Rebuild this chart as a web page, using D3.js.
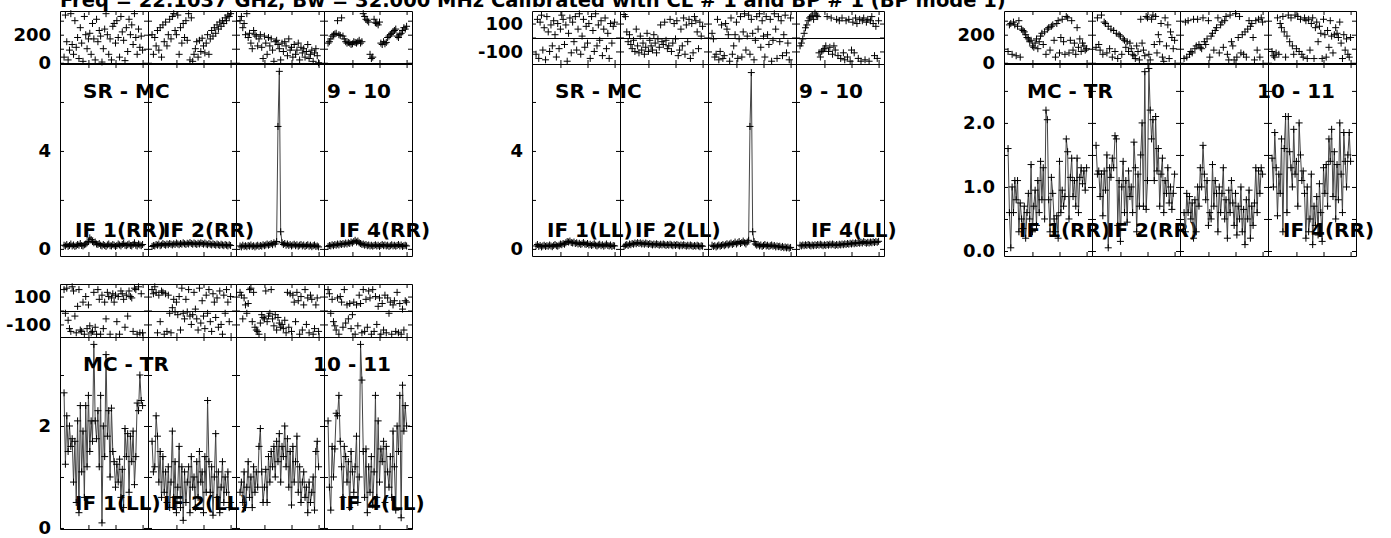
<!DOCTYPE html>
<html><head><meta charset="utf-8">
<script src="https://cdn.jsdelivr.net/npm/d3@7"></script>
<style>
html,body{margin:0;padding:0;background:#fff;}
svg{display:block;}
text{font-family:"DejaVu Sans",sans-serif;font-weight:bold;fill:#000;}
</style>
</head><body><svg id="c" width="1391" height="538"></svg>
<script>
// ---------------- DATA ----------------
const titleText = "Freq = 22.1037 GHz, Bw = 32.000 MHz  Calibrated with CL # 1 and BP # 1 (BP mode 1)";
const firstChannel = 2;
const channelAxisDomain = [-1, 64];
const channelTicks = [20, 40, 60];
const ifNames = ["IF 1", "IF 2", "IF 3", "IF 4"];
const ifLabelShown = [true, true, false, true];
const baselineNames = ["SR - MC", "SR - MC", "MC - TR", "MC - TR"];
const antennaPairs = ["9 - 10", "9 - 10", "10 - 11", "10 - 11"];
const polarizations = ["RR", "LL", "RR", "LL"];

const ampDomains = [[-0.29, 7.55], [-0.29, 7.55], [-0.078, 2.92], [-0.02, 3.745]];
const ampTicks = [[0, 2, 4, 6], [0, 2, 4, 6], [0, 0.5, 1, 1.5, 2, 2.5], [0, 1, 2, 3]];
const ampTickLabels = [[0, 4], [0, 4], [0, 1, 2], [0, 2]];
const ampLabelDecimals = [0, 0, 1, 0];
const phaseDomains = [[-9, 369], [-190, 190], [-9, 369], [-190, 190]];
const phaseTicks = [[0, 100, 200, 300], [-100, 0, 100], [0, 100, 200, 300], [-100, 0, 100]];
const phaseTickLabels = [[0, 200], [100, -100], [0, 200], [100, -100]];

// Panel 1: SR - MC, RR
const ampSRMC_RR = [
 [0.15,0.12,0.18,0.10,0.14,0.20,0.12,0.16,0.10,0.13,
  0.18,0.15,0.22,0.14,0.12,0.17,0.20,0.25,0.30,0.45,
  0.38,0.30,0.25,0.28,0.20,0.18,0.22,0.15,0.12,0.18,
  0.14,0.10,0.16,0.20,0.13,0.12,0.18,0.15,0.10,0.14,
  0.20,0.16,0.12,0.18,0.22,0.15,0.13,0.17,0.20,0.14,
  0.12,0.18,0.25,0.15,0.12,0.20,0.16,0.13,0.18],
 [0.10,0.14,0.12,0.18,0.15,0.20,0.13,0.16,0.22,0.18,
  0.15,0.20,0.17,0.22,0.19,0.16,0.21,0.18,0.24,0.20,
  0.17,0.22,0.19,0.25,0.21,0.18,0.23,0.20,0.26,0.22,
  0.19,0.24,0.21,0.18,0.23,0.20,0.25,0.22,0.19,0.24,
  0.20,0.17,0.22,0.19,0.16,0.21,0.18,0.15,0.20,0.17,
  0.14,0.19,0.16,0.13,0.18,0.15,0.12,0.17,0.14],
 [0.12,0.08,0.15,0.10,0.13,0.09,0.14,0.11,0.16,0.10,
  0.13,0.08,0.12,0.15,0.10,0.14,0.11,0.17,0.13,0.16,
  0.20,0.15,0.18,0.22,0.17,0.25,0.20,0.30,5.00,7.25,
  0.70,0.25,0.18,0.22,0.15,0.20,0.14,0.18,0.12,0.16,
  0.19,0.13,0.17,0.11,0.15,0.18,0.12,0.16,0.10,0.14,
  0.17,0.11,0.15,0.09,0.13,0.16,0.10,0.12,0.08],
 [0.10,0.14,0.12,0.17,0.13,0.18,0.15,0.20,0.16,0.21,
  0.18,0.22,0.19,0.24,0.20,0.25,0.22,0.28,0.24,0.30,
  0.35,0.28,0.32,0.25,0.22,0.18,0.20,0.15,0.18,0.13,
  0.16,0.12,0.15,0.11,0.14,0.17,0.12,0.15,0.10,0.14,
  0.18,0.13,0.16,0.12,0.15,0.10,0.13,0.17,0.12,0.15,
  0.11,0.14,0.18,0.12,0.16,0.10,0.13,0.15,0.12]
];
const phaseSRMC_RR = [
 [40,340,150,20,90,350,130,60,300,110,
  180,30,250,140,10,330,200,100,170,210,
  60,280,170,20,310,150,230,190,5,100,
  240,350,200,60,170,20,260,280,140,300,
  180,40,330,220,160,15,250,80,310,200,
  270,130,350,180,60,240,110,190,90],
 [200,60,180,120,230,90,250,40,270,150,
  290,120,200,310,170,330,350,230,200,340,
  60,250,140,280,180,300,160,350,20,320,
  10,60,100,150,40,160,80,175,120,70,
  140,200,60,170,230,190,250,210,270,240,
  290,260,300,280,320,300,340,330,350],
 [300,330,250,280,200,350,180,210,140,100,
  230,200,190,120,170,200,110,30,190,140,
  60,180,120,170,90,10,150,160,130,100,
  20,140,80,150,120,50,170,90,110,40,
  130,60,90,140,20,110,70,100,40,80,
  130,30,60,90,10,70,100,50,0],
 [140,150,170,190,200,205,210,300,200,195,
  320,190,170,150,140,145,140,130,135,150,
  145,140,150,160,140,150,350,330,310,300,
  290,60,30,40,310,285,280,270,290,140,
  130,150,135,145,180,190,200,210,220,230,
  240,190,180,200,210,230,250,240,260]
];

// Panel 2: SR - MC, LL
const ampSRMC_LL = [
 [0.12,0.18,0.10,0.14,0.08,0.12,0.15,0.10,0.13,0.11,
  0.16,0.12,0.09,0.14,0.18,0.13,0.11,0.15,0.20,0.17,
  0.22,0.19,0.25,0.30,0.28,0.32,0.26,0.24,0.28,0.22,
  0.25,0.20,0.23,0.18,0.21,0.26,0.20,0.18,0.22,0.16,
  0.19,0.14,0.17,0.21,0.15,0.12,0.16,0.19,0.13,0.17,
  0.11,0.15,0.20,0.14,0.12,0.16,0.10,0.14,0.12],
 [0.10,0.15,0.18,0.14,0.20,0.17,0.22,0.19,0.24,0.21,
  0.26,0.22,0.25,0.20,0.23,0.19,0.24,0.21,0.18,0.22,
  0.19,0.16,0.20,0.17,0.21,0.18,0.15,0.19,0.16,0.20,
  0.17,0.14,0.18,0.15,0.19,0.16,0.13,0.17,0.14,0.18,
  0.15,0.12,0.16,0.13,0.17,0.14,0.11,0.15,0.12,0.16,
  0.13,0.10,0.14,0.11,0.15,0.12,0.09,0.13,0.11],
 [0.15,0.10,0.13,0.08,0.12,0.16,0.11,0.14,0.18,0.13,
  0.17,0.21,0.16,0.20,0.24,0.18,0.22,0.28,0.20,0.25,
  0.30,0.22,0.26,0.32,0.25,0.20,0.28,0.35,5.00,7.20,
  0.70,0.30,0.20,0.15,0.18,0.12,0.16,0.10,0.14,0.18,
  0.12,0.15,0.10,0.13,0.16,0.11,0.14,0.08,0.12,0.09,
  0.11,0.06,0.10,0.05,0.08,0.04,0.07,0.03,0.06],
 [0.15,0.12,0.16,0.13,0.17,0.14,0.18,0.15,0.12,0.16,
  0.13,0.17,0.14,0.18,0.15,0.19,0.16,0.13,0.17,0.14,
  0.18,0.15,0.19,0.16,0.20,0.17,0.14,0.18,0.15,0.19,
  0.16,0.20,0.17,0.21,0.18,0.22,0.19,0.23,0.20,0.24,
  0.21,0.25,0.22,0.26,0.23,0.27,0.24,0.30,0.26,0.23,
  0.27,0.24,0.28,0.25,0.29,0.26,0.30,0.27,0.31]
];
const phaseSRMC_LL = [
 [-120,130,-150,110,160,-90,70,-160,150,40,
  -100,90,-60,120,20,-140,100,-80,60,160,
  130,-50,90,-170,30,140,-110,110,-30,150,
  -90,60,170,-120,10,130,-70,80,-40,100,
  -150,150,50,-100,170,-60,90,-20,120,-130,
  60,140,-80,30,-150,100,-40,80,110],
 [165,150,40,-30,20,-50,-80,-20,-100,60,
  -60,-110,10,-90,-40,-120,-70,30,-100,-20,
  -60,-90,20,-40,-110,-10,-70,90,-30,-50,
  110,-20,-80,-60,130,-100,-40,100,-10,120,
  -130,-90,60,-60,140,-120,90,-30,130,-150,
  100,-110,150,120,40,-80,110,10,80],
 [30,-10,-140,-120,130,-160,-100,90,-150,-130,
  100,60,20,-170,140,-120,-60,20,110,-150,
  -10,150,-140,40,170,-90,10,160,-120,130,
  30,-160,-20,150,60,170,-70,120,10,-140,
  150,20,-50,130,-170,-20,170,60,-150,150,
  -30,120,-130,20,160,-110,-40,-160,140],
 [-60,-40,-10,30,70,90,120,140,150,160,
  130,175,160,150,-110,-140,-100,-90,-80,-60,
  150,-100,-70,140,-120,-60,-90,130,-130,120,
  -150,140,-110,-160,120,-140,130,-170,-90,110,
  -110,140,100,-150,130,-170,120,140,-160,110,
  130,-170,120,150,100,-130,80,-150,120]
];

// Panel 3: MC - TR, RR
const ampMCTR_RR = [
 [1.6,0.6,0.05,1.0,0.6,1.1,0.8,1.1,0.3,0.75,
  0.5,0.35,0.7,0.2,0.6,0.9,0.5,1.35,0.3,0.7,
  0.95,0.4,1.1,0.6,1.4,0.8,1.3,0.5,2.2,2.05,
  0.8,0.3,1.15,0.9,0.5,0.3,0.55,0.2,1.4,0.6,
  0.95,0.7,0.85,1.75,1.55,0.5,1.15,1.45,0.85,1.1,
  0.7,1.45,0.6,1.15,1.3,1.05,1.25,0.95,1.3],
 [1.65,1.2,1.25,0.85,1.2,0.55,1.25,0.95,1.5,0.05,
  1.3,1.15,1.45,1.3,1.8,1.75,0.4,1.1,0.15,1.0,
  1.4,0.6,1.1,0.45,1.25,0.85,1.0,0.6,1.7,1.3,
  0.3,1.2,0.7,1.5,2.0,0.7,2.8,0.65,1.1,2.85,
  2.2,1.75,2.05,1.1,2.1,1.25,1.6,0.7,1.2,1.45,
  0.6,1.1,0.9,1.3,0.75,1.0,0.65,0.9,1.2],
 [0.6,0.3,0.9,0.6,0.85,0.5,0.75,0.2,0.8,0.3,
  1.0,0.7,1.3,1.0,1.65,1.2,0.8,1.1,0.4,0.6,
  0.5,1.35,0.7,1.1,0.9,0.3,1.0,0.6,0.9,1.3,
  0.5,0.8,0.2,0.95,0.6,1.1,0.75,0.4,0.9,0.25,
  0.7,0.5,1.0,0.3,0.65,0.1,0.8,0.5,0.95,0.2,
  0.7,0.4,0.75,1.3,0.6,1.25,0.9,1.3,1.2],
 [1.45,1.0,1.85,1.3,0.55,1.2,0.9,1.75,0.3,1.6,
  2.1,0.6,2.1,1.55,1.3,1.0,1.9,1.2,1.4,0.7,
  2.0,1.5,1.1,1.25,0.9,0.2,1.0,0.3,0.5,1.2,
  0.1,0.7,0.4,0.85,0.25,1.05,0.6,0.15,1.3,0.9,
  1.35,0.7,1.75,1.4,1.9,0.85,1.55,0.5,1.35,0.8,
  2.0,1.2,0.6,1.85,1.4,1.0,1.5,1.85,1.4]
];
const phaseMCTR_RR = [
 [80,270,280,60,290,270,50,260,300,40,
  240,230,220,200,180,170,150,160,120,110,
  140,170,100,150,190,210,130,220,60,240,
  250,90,260,270,160,40,280,300,70,180,
  310,150,60,330,320,70,160,300,90,140,
  60,250,110,170,80,140,120,90,100],
 [110,320,130,90,340,60,290,280,70,260,
  100,240,40,230,80,210,30,200,190,60,
  170,160,110,150,80,140,100,60,50,30,
  120,80,20,310,140,90,50,330,320,60,
  20,310,340,130,330,70,200,150,280,40,
  10,320,120,270,30,220,180,100,160],
 [30,290,40,300,60,80,70,310,100,120,
  310,130,110,100,320,150,130,170,300,40,
  190,210,90,230,250,320,70,270,290,110,
  300,330,60,20,340,150,120,20,350,40,
  180,330,70,200,60,220,40,240,300,260,
  280,180,20,300,90,310,40,320,290],
 [80,50,40,70,320,60,280,250,330,220,
  40,190,340,150,320,120,60,340,100,330,
  80,310,60,40,320,300,30,310,90,280,
  320,30,250,290,150,260,210,30,310,200,
  40,230,110,300,190,70,200,250,210,180,
  290,140,30,200,90,170,60,40,180]
];

// Panel 4: MC - TR, LL
const ampMCTR_LL = [
 [2.65,1.25,2.2,1.5,2.0,1.6,1.75,0.9,1.7,0.5,
  2.1,0.3,2.4,1.1,1.9,0.6,2.4,1.2,2.6,1.5,
  2.1,1.7,3.6,2.1,1.75,2.3,1.2,2.6,0.1,2.0,
  1.4,3.4,1.8,2.3,1.0,2.35,1.5,1.3,0.8,1.25,
  0.9,1.35,0.6,1.15,0.4,1.95,1.4,1.85,0.7,1.8,
  1.3,1.9,0.85,1.4,2.45,2.3,3.0,2.5,2.4],
 [1.7,1.1,1.2,2.2,1.8,0.9,1.5,0.6,1.4,0.7,
  1.1,0.5,1.2,0.4,0.9,1.9,0.6,1.3,0.3,0.8,
  1.6,0.4,1.2,0.15,1.1,0.5,0.9,1.2,0.3,1.4,
  0.8,1.0,0.4,1.3,0.6,1.5,0.9,1.1,0.3,1.4,
  0.7,2.5,1.3,0.7,1.2,0.25,1.0,1.85,0.6,1.1,
  0.3,0.8,1.3,0.5,1.0,0.7,1.1,0.4,0.5],
 [0.7,0.9,0.5,1.1,0.4,0.8,1.3,0.6,1.0,0.4,
  1.2,0.7,1.1,0.8,1.6,1.95,1.1,0.5,0.8,1.15,
  0.5,1.4,0.9,1.5,1.2,1.6,1.0,1.7,1.3,1.85,
  0.9,1.6,1.4,2.0,1.2,1.75,0.8,1.5,0.45,1.6,
  0.9,1.3,1.8,0.7,1.2,0.5,0.9,1.1,0.6,0.8,
  0.3,0.9,0.5,0.7,1.0,0.35,1.5,1.7,1.2],
 [2.1,0.8,0.35,1.6,1.0,1.55,2.25,2.2,2.6,1.7,
  1.2,0.6,1.6,1.4,0.9,1.3,0.4,1.5,1.1,0.7,
  1.2,1.8,0.5,1.0,3.6,2.9,1.5,0.6,1.55,0.3,
  1.2,0.7,1.4,0.45,1.1,2.6,0.6,2.1,0.9,1.55,
  1.3,1.7,0.5,1.6,1.1,0.8,1.4,0.6,1.9,1.2,
  0.35,2.0,1.5,2.6,0.2,2.8,1.9,2.4,2.0]
];
const phaseMCTR_LL = [
 [150,-20,160,-70,-130,-150,170,140,-40,-160,
  30,150,-140,-150,60,-170,100,-130,40,-110,
  -160,-150,130,-120,-170,150,80,-170,110,-130,
  60,-60,130,100,-170,90,120,60,110,-80,
  100,-170,140,120,80,-120,110,-40,140,100,
  90,-150,160,150,-170,170,-160,120,-160],
 [150,120,170,130,-160,110,-80,140,130,-170,
  120,-150,110,-20,-160,20,80,-10,60,-30,
  100,-140,160,-20,-60,80,-10,150,-40,-100,
  -30,130,10,-60,-140,160,-90,70,-40,-130,
  110,-20,150,-80,-150,120,60,-50,90,-120,
  140,-100,-170,110,-20,150,60,-80,100],
 [130,110,-60,90,40,-20,50,150,160,-80,
  130,-120,-140,-150,-170,-90,-30,-50,-60,140,
  -80,-40,-20,150,-60,-110,-30,-140,-50,-90,
  -120,-100,-130,-70,-160,130,-120,120,-150,110,
  60,-80,130,70,-170,100,-140,40,150,-100,
  90,-160,110,80,-170,-130,40,90,-150],
 [150,120,-20,80,-80,-110,-140,90,-170,100,
  60,-120,150,-90,40,-60,50,-130,-30,60,
  -170,40,-110,110,50,-160,150,-150,80,-120,
  140,90,-170,150,-150,100,-100,30,90,-170,
  50,-140,110,-160,90,-20,60,-170,40,70,
  -150,130,-160,50,-170,10,-140,70,60]
];

const panelAmps = [ampSRMC_RR, ampSRMC_LL, ampMCTR_RR, ampMCTR_LL];
const panelPhases = [phaseSRMC_RR, phaseSRMC_LL, phaseMCTR_RR, phaseMCTR_LL];

// ---------------- LAYOUT ----------------
const panelOrigins = [[60, 11], [532, 11], [1004, 11], [60, 284]];
const ifW = 88, phH = 53, amH = 192;
const tickLen = 4;
const crossArm = 3.5;

const svg = d3.select("#c");

svg.append("text")
  .attr("x", 60).attr("y", 7)
  .style("font-size", "19.5px")
  .text(titleText);

const crossPath = `M${-crossArm},0H${crossArm}M0,${-crossArm}V${crossArm}`;
const plainNum = dec => (d => d.toFixed(dec));

function styleAxis(sel) {
  sel.selectAll(".domain").attr("stroke", "#000").attr("stroke-width", 1);
  sel.selectAll(".tick line").attr("stroke", "#000").attr("stroke-width", 1);
}

panelOrigins.forEach(([x0, y0], p) => {
  const g = svg.append("g");
  const yPh = d3.scaleLinear().domain(phaseDomains[p]).range([y0 + phH, y0]);
  const yAm = d3.scaleLinear().domain(ampDomains[p]).range([y0 + phH + amH, y0 + phH]);
  const boxRight = x0 + 4 * ifW;

  // phase zero line
  g.append("line")
    .attr("x1", x0).attr("x2", boxRight)
    .attr("y1", Math.round(yPh(0)) + 0.5).attr("y2", Math.round(yPh(0)) + 0.5)
    .attr("stroke", "#000").attr("stroke-width", 1);

  for (let k = 0; k < 4; k++) {
    const xs = d3.scaleLinear().domain(channelAxisDomain).range([x0 + k * ifW, x0 + (k + 1) * ifW]);
    const amps = panelAmps[p][k];
    const phs = panelPhases[p][k];
    const ch = i => firstChannel + i;

    const phTop = g.append("g").attr("transform", `translate(0,${y0})`)
      .call(d3.axisTop(xs).tickValues(channelTicks).tickSize(-tickLen).tickSizeOuter(0).tickFormat(""));
    const phBot = g.append("g").attr("transform", `translate(0,${y0 + phH})`)
      .call(d3.axisBottom(xs).tickValues(channelTicks).tickSize(-tickLen).tickSizeOuter(0).tickFormat(""));
    const phL = g.append("g").attr("transform", `translate(${x0 + k * ifW},0)`)
      .call(d3.axisLeft(yPh).tickValues(phaseTicks[p]).tickSize(-tickLen).tickSizeOuter(0).tickFormat(""));
    const phR = g.append("g").attr("transform", `translate(${x0 + (k + 1) * ifW},0)`)
      .call(d3.axisRight(yPh).tickValues(phaseTicks[p]).tickSize(-tickLen).tickSizeOuter(0).tickFormat(""));
    const amTop = g.append("g").attr("transform", `translate(0,${y0 + phH})`)
      .call(d3.axisTop(xs).tickValues(channelTicks).tickSize(-tickLen).tickSizeOuter(0).tickFormat(""));
    const amBot = g.append("g").attr("transform", `translate(0,${y0 + phH + amH})`)
      .call(d3.axisBottom(xs).tickValues(channelTicks).tickSize(-tickLen).tickSizeOuter(0).tickFormat(""));
    const amL = g.append("g").attr("transform", `translate(${x0 + k * ifW},0)`)
      .call(d3.axisLeft(yAm).tickValues(ampTicks[p]).tickSize(-tickLen).tickSizeOuter(0).tickFormat(""));
    const amR = g.append("g").attr("transform", `translate(${x0 + (k + 1) * ifW},0)`)
      .call(d3.axisRight(yAm).tickValues(ampTicks[p]).tickSize(-tickLen).tickSizeOuter(0).tickFormat(""));
    [phTop, phBot, phL, phR, amTop, amBot, amL, amR].forEach(styleAxis);

    g.append("g").selectAll("path").data(phs).join("path")
      .attr("d", crossPath)
      .attr("transform", (v, i) => `translate(${xs(ch(i))},${yPh(v)})`)
      .attr("stroke", "#000").attr("stroke-width", 1).attr("fill", "none");

    const line = d3.line().x((v, i) => xs(ch(i))).y(v => yAm(v));
    g.append("path").datum(amps)
      .attr("d", line).attr("fill", "none")
      .attr("stroke", "#444").attr("stroke-width", 1);
    g.append("g").selectAll("path").data(amps).join("path")
      .attr("d", crossPath)
      .attr("transform", (v, i) => `translate(${xs(ch(i))},${yAm(v)})`)
      .attr("stroke", "#000").attr("stroke-width", 1).attr("fill", "none");

    if (ifLabelShown[k]) {
      g.append("text")
        .attr("x", x0 + k * ifW + 15)
        .attr("y", y0 + phH + amH - 19)
        .style("font-size", "20px")
        .text(`${ifNames[k]}(${polarizations[p]})`);
    }
  }

  const labPh = g.append("g").attr("transform", `translate(${x0},0)`)
    .call(d3.axisLeft(yPh).tickValues(phaseTickLabels[p]).tickSize(0).tickPadding(9).tickFormat(plainNum(0)));
  const labAm = g.append("g").attr("transform", `translate(${x0},0)`)
    .call(d3.axisLeft(yAm).tickValues(ampTickLabels[p]).tickSize(0).tickPadding(9).tickFormat(plainNum(ampLabelDecimals[p])));
  [labPh, labAm].forEach(s => {
    s.select(".domain").remove();
    s.selectAll("text").style("font-size", "18px").style("font-family", '"DejaVu Sans",sans-serif').style("font-weight", "bold").attr("fill", "#000");
  });

  g.append("text").attr("x", x0 + 23).attr("y", y0 + phH + 34)
    .style("font-size", "20px").text(baselineNames[p]);
  g.append("text").attr("x", boxRight - 21).attr("y", y0 + phH + 34)
    .attr("text-anchor", "end")
    .style("font-size", "20px").text(antennaPairs[p]);
});
</script>
</body></html>
